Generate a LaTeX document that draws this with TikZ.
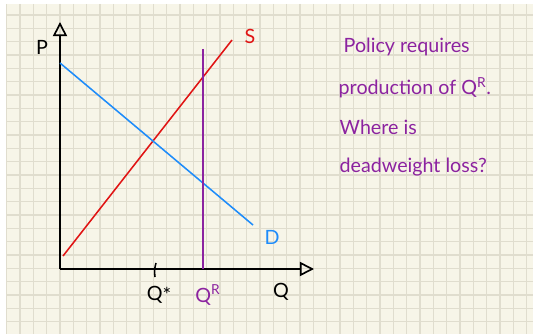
\documentclass[tikz,border=0pt]{standalone}
\usepackage{fontspec}
\setmainfont{Lato}
\usetikzlibrary{arrows.meta}

\definecolor{paper}{RGB}{247,245,232}
\definecolor{gridline}{RGB}{224,221,206}
\definecolor{supplyred}{RGB}{224,20,20}
\definecolor{demandblue}{RGB}{30,140,250}
\definecolor{policypurple}{RGB}{140,35,160}

\begin{document}
\begin{tikzpicture}[
    x=0.025cm, y=-0.025cm,
    curve/.style={line width=1.1pt},
    axis/.style={line width=1.4pt, -{Triangle[open,length=10pt,width=10pt,line width=1.2pt]}},
    lbl/.style={font=\fontsize{14}{16}\selectfont, inner sep=1pt}
]

\useasboundingbox (0,0) rectangle (533,334);
\fill[white] (0,0) rectangle (533,334);
\fill[paper] (6,4) rectangle (533,334);

% squared paper
\foreach \k in {0,...,39}
    \draw[gridline, line width=1pt] ({6.7+13.333*\k},4) -- ({6.7+13.333*\k},334);
\foreach \k in {0,...,23}
    \draw[gridline, line width=1pt] (6,{15+13.333*\k}) -- (533,{15+13.333*\k});

% axes
\coordinate (origin) at (60,269);
\coordinate (ptop) at (60,22);
\coordinate (qend) at (314,269);
\draw[axis] (origin) -- (ptop);
\draw[axis] (origin) -- (qend);

% supply, demand and the required quantity
\coordinate (s0) at (63,256);
\coordinate (s1) at (232,40);
\coordinate (d0) at (60,63);
\coordinate (d1) at (253,225);
\coordinate (r0) at (203,49);
\coordinate (r1) at (203,269);
\draw[curve, supplyred] (s0) -- (s1);
\draw[curve, demandblue] (d0) -- (d1);
\draw[curve, policypurple] (r0) -- (r1);

% tick at Q*
\coordinate (t0) at (156,263);
\coordinate (t1) at (155,277);
\draw[curve] (t0) to[bend right=12] (t1);

% labels
\node[lbl] (P) at (42,47) {P};
\node[lbl, supplyred] (S) at (250,36) {S};
\node[lbl, demandblue] (D) at (272,237) {D};
\node[lbl] (Qstar) at (159,295) {Q\raisebox{-1pt}{\Large*}};
\node[lbl, policypurple] (QR) at (208,295) {Q\textsuperscript{R}};
\node[lbl] (Q) at (281,292) {Q};

% question
\node[lbl, policypurple, anchor=west] (line1) at (342,47) {Policy requires};
\node[lbl, policypurple, anchor=west] (line2) at (337,88) {production of Q\textsuperscript{R}.};
\node[lbl, policypurple, anchor=west] (line3) at (338,127) {Where is};
\node[lbl, policypurple, anchor=west] (line4) at (338,167) {deadweight loss?};

\end{tikzpicture}
\end{document}
